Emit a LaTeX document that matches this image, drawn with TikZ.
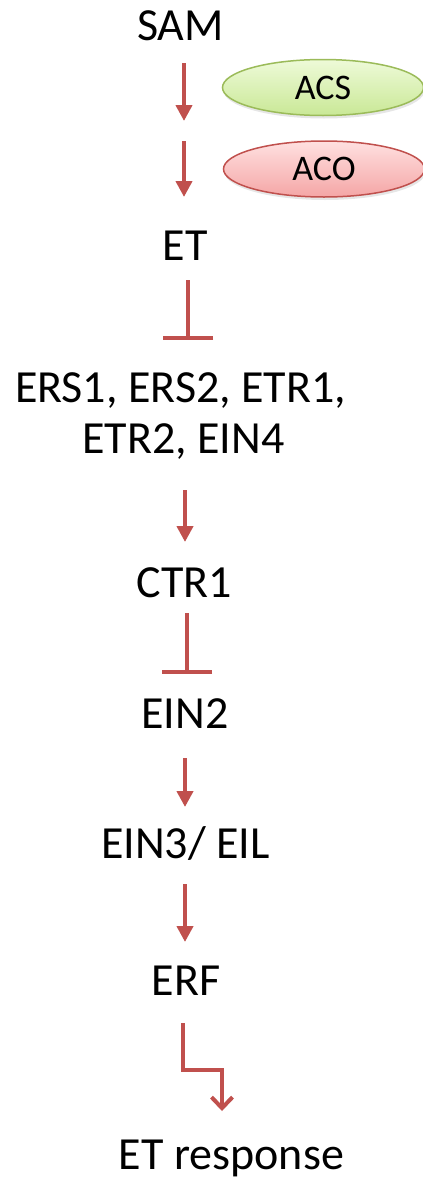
\documentclass[tikz,border=0pt]{standalone}
\usepackage{fontspec}
\setmainfont{Carlito}
\usetikzlibrary{arrows.meta,shapes.geometric,shadows}
\definecolor{arr}{HTML}{C0504D}
\definecolor{acsline}{HTML}{9BBB59}
\definecolor{acstop}{HTML}{EEFAD8}
\definecolor{acsbot}{HTML}{C9E896}
\definecolor{acoline}{HTML}{C0504D}
\definecolor{acotop}{HTML}{FFE0E0}
\definecolor{acobot}{HTML}{F4A6A6}
\begin{document}
\begin{tikzpicture}[x=1pt,y=-1pt,
  lbl/.style={font=\fontsize{46}{51}\selectfont, inner sep=0pt, anchor=base},
  act/.style={draw=arr, line width=4pt, -{Triangle[width=16pt,length=16pt]}},
  inh/.style={draw=arr, line width=4.5pt, -{Bar[width=50pt]}},
  bent/.style={draw=arr, line width=4pt, line join=miter, -{Straight Barb[width=21pt,length=11pt]}},
  enz/.style={ellipse, inner sep=0pt, minimum width=201pt, minimum height=56pt,
    line width=1.5pt, font=\fontsize{36}{42}\selectfont,
    drop shadow={opacity=0.2, shadow xshift=1pt, shadow yshift=-3pt}}]
\useasboundingbox (0,0) rectangle (423,1181);

% labels
\node[lbl] (sam) at (180.5,40) {SAM};
\node[lbl] (et) at (185,260) {ET};
\node[lbl] (ers1) at (180.5,402) {ERS1, ERS2, ETR1,};
\node[lbl] (ers2) at (183.5,453) {ETR2, EIN4};
\node[lbl] (ctr1) at (184.5,597) {CTR1};
\node[lbl] (ein2) at (185,728) {EIN2};
\node[lbl] (ein3) at (185.5,858) {EIN3/ EIL};
\node[lbl] (erf) at (186,995) {ERF};
\node[lbl] (resp) at (231.5,1169) {ET response};

% enzymes
\node[enz, draw=acsline, top color=acstop, bottom color=acsbot] (acs) at (323,87.5) {ACS};
\node[enz, draw=acoline, top color=acotop, bottom color=acobot] (aco) at (324,169) {ACO};

% connector ends
\coordinate (a1s) at (184,63);   \coordinate (a1e) at (184,121);
\coordinate (a2s) at (184,141);  \coordinate (a2e) at (184,197);
\coordinate (i1s) at (188,280);  \coordinate (i1e) at (188,340);
\coordinate (a3s) at (185,490);  \coordinate (a3e) at (185,542);
\coordinate (i2s) at (187,613);  \coordinate (i2e) at (187,674);
\coordinate (a4s) at (185,758);  \coordinate (a4e) at (185,807);
\coordinate (a5s) at (185,884);  \coordinate (a5e) at (185,942);
\coordinate (bs) at (183,1023);  \coordinate (bm) at (222,1070);
\coordinate (be) at (222,1111);

\draw[act] (a1s) -- (a1e);
\draw[act] (a2s) -- (a2e);
\draw[inh] (i1s) -- (i1e);
\draw[act] (a3s) -- (a3e);
\draw[inh] (i2s) -- (i2e);
\draw[act] (a4s) -- (a4e);
\draw[act] (a5s) -- (a5e);
\draw[bent] (bs) |- (bm) -- (be);
\end{tikzpicture}
\end{document}
